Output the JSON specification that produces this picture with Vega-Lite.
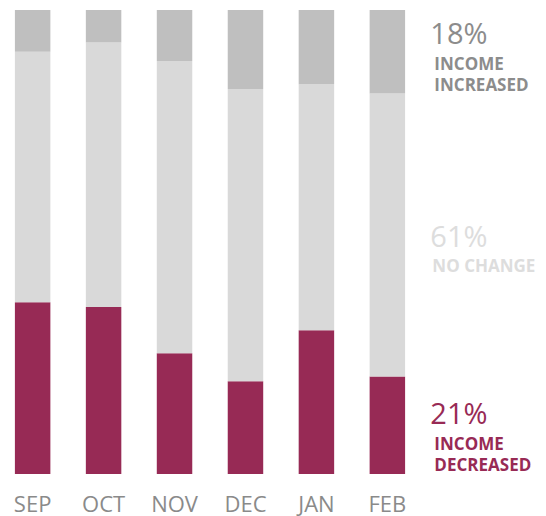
{
  "$schema": "https://vega.github.io/schema/vega-lite/v6.json",
  "width": 420,
  "height": 464,
  "autosize": {"type": "none"},
  "padding": {"left": 0, "top": 10, "right": 126, "bottom": 42},
  "config": {"view": {"stroke": null}, "font": "Open Sans"},
  "datasets": {
    "bars": [
      {"month": "SEP", "category": "Decreased", "level": 1, "pct": 37},
      {"month": "SEP", "category": "No change", "level": 2, "pct": 54},
      {"month": "SEP", "category": "Increased", "level": 3, "pct": 9},
      {"month": "OCT", "category": "Decreased", "level": 1, "pct": 36},
      {"month": "OCT", "category": "No change", "level": 2, "pct": 57},
      {"month": "OCT", "category": "Increased", "level": 3, "pct": 7},
      {"month": "NOV", "category": "Decreased", "level": 1, "pct": 26},
      {"month": "NOV", "category": "No change", "level": 2, "pct": 63},
      {"month": "NOV", "category": "Increased", "level": 3, "pct": 11},
      {"month": "DEC", "category": "Decreased", "level": 1, "pct": 20},
      {"month": "DEC", "category": "No change", "level": 2, "pct": 63},
      {"month": "DEC", "category": "Increased", "level": 3, "pct": 17},
      {"month": "JAN", "category": "Decreased", "level": 1, "pct": 31},
      {"month": "JAN", "category": "No change", "level": 2, "pct": 53},
      {"month": "JAN", "category": "Increased", "level": 3, "pct": 16},
      {"month": "FEB", "category": "Decreased", "level": 1, "pct": 21},
      {"month": "FEB", "category": "No change", "level": 2, "pct": 61},
      {"month": "FEB", "category": "Increased", "level": 3, "pct": 18}
    ],
    "labels": [
      {"month": "FEB", "category": "Increased", "share": "18%", "name": "INCOME\nINCREASED"},
      {"month": "FEB", "category": "No change", "share": "61%", "name": "NO CHANGE"},
      {"month": "FEB", "category": "Decreased", "share": "21%", "name": "INCOME\nDECREASED"}
    ]
  },
  "layer": [
    {
      "data": {"name": "bars"},
      "mark": {"type": "bar"},
      "encoding": {
        "x": {
          "field": "month",
          "type": "nominal",
          "sort": ["SEP", "OCT", "NOV", "DEC", "JAN", "FEB"],
          "scale": {"paddingInner": 0.5, "paddingOuter": 0.21},
          "axis": {
            "title": null,
            "domain": false,
            "ticks": false,
            "tickSize": 0,
            "labelPadding": 37,
            "labelBaseline": "alphabetic",
            "labelFontSize": 22,
            "labelFont": "Open Sans",
            "labelColor": "#8a8a8a",
            "labelAngle": 0
          }
        },
        "y": {
          "field": "pct",
          "type": "quantitative",
          "stack": "zero",
          "scale": {"domain": [0, 100], "nice": false},
          "axis": null
        },
        "color": {
          "field": "category",
          "type": "nominal",
          "scale": {"domain": ["Decreased", "No change", "Increased"], "range": ["#972a55", "#d9d9d9", "#bfbfbf"]},
          "legend": null
        },
        "order": {"field": "level", "type": "quantitative"}
      }
    },
    {
      "data": {"name": "labels"},
      "transform": [{"filter": "datum.category === 'Increased'"}],
      "mark": {"type": "text", "align": "left", "baseline": "alphabetic", "dx": 43, "dy": 34, "fontSize": 29, "color": "#8c8c8c"},
      "encoding": {
        "x": {"field": "month", "type": "nominal", "sort": ["SEP", "OCT", "NOV", "DEC", "JAN", "FEB"]},
        "y": {"datum": 100, "type": "quantitative"},
        "text": {"field": "share"}
      }
    },
    {
      "data": {"name": "labels"},
      "transform": [{"filter": "datum.category === 'Increased'"}],
      "mark": {"type": "text", "align": "left", "baseline": "alphabetic", "dx": 47, "dy": 60, "fontSize": 17, "fontWeight": "bold", "lineHeight": 20.5, "lineBreak": "\n", "color": "#8c8c8c"},
      "encoding": {
        "x": {"field": "month", "type": "nominal", "sort": ["SEP", "OCT", "NOV", "DEC", "JAN", "FEB"]},
        "y": {"datum": 100, "type": "quantitative"},
        "text": {"field": "name"}
      }
    },
    {
      "data": {"name": "labels"},
      "transform": [{"filter": "datum.category === 'No change'"}],
      "mark": {"type": "text", "align": "left", "baseline": "alphabetic", "dx": 43, "dy": 5, "fontSize": 29, "color": "#dddddd"},
      "encoding": {
        "x": {"field": "month", "type": "nominal", "sort": ["SEP", "OCT", "NOV", "DEC", "JAN", "FEB"]},
        "y": {"datum": 50, "type": "quantitative"},
        "text": {"field": "share"}
      }
    },
    {
      "data": {"name": "labels"},
      "transform": [{"filter": "datum.category === 'No change'"}],
      "mark": {"type": "text", "align": "left", "baseline": "alphabetic", "dx": 45, "dy": 30, "fontSize": 17, "fontWeight": "bold", "color": "#dddddd"},
      "encoding": {
        "x": {"field": "month", "type": "nominal", "sort": ["SEP", "OCT", "NOV", "DEC", "JAN", "FEB"]},
        "y": {"datum": 50, "type": "quantitative"},
        "text": {"field": "name"}
      }
    },
    {
      "data": {"name": "labels"},
      "transform": [{"filter": "datum.category === 'Decreased'"}],
      "mark": {"type": "text", "align": "left", "baseline": "alphabetic", "dx": 43, "dy": -50, "fontSize": 29, "color": "#982a55"},
      "encoding": {
        "x": {"field": "month", "type": "nominal", "sort": ["SEP", "OCT", "NOV", "DEC", "JAN", "FEB"]},
        "y": {"datum": 0, "type": "quantitative"},
        "text": {"field": "share"}
      }
    },
    {
      "data": {"name": "labels"},
      "transform": [{"filter": "datum.category === 'Decreased'"}],
      "mark": {"type": "text", "align": "left", "baseline": "alphabetic", "dx": 47, "dy": -24, "fontSize": 17, "fontWeight": "bold", "lineHeight": 20.5, "lineBreak": "\n", "color": "#982a55"},
      "encoding": {
        "x": {"field": "month", "type": "nominal", "sort": ["SEP", "OCT", "NOV", "DEC", "JAN", "FEB"]},
        "y": {"datum": 0, "type": "quantitative"},
        "text": {"field": "name"}
      }
    }
  ]
}
